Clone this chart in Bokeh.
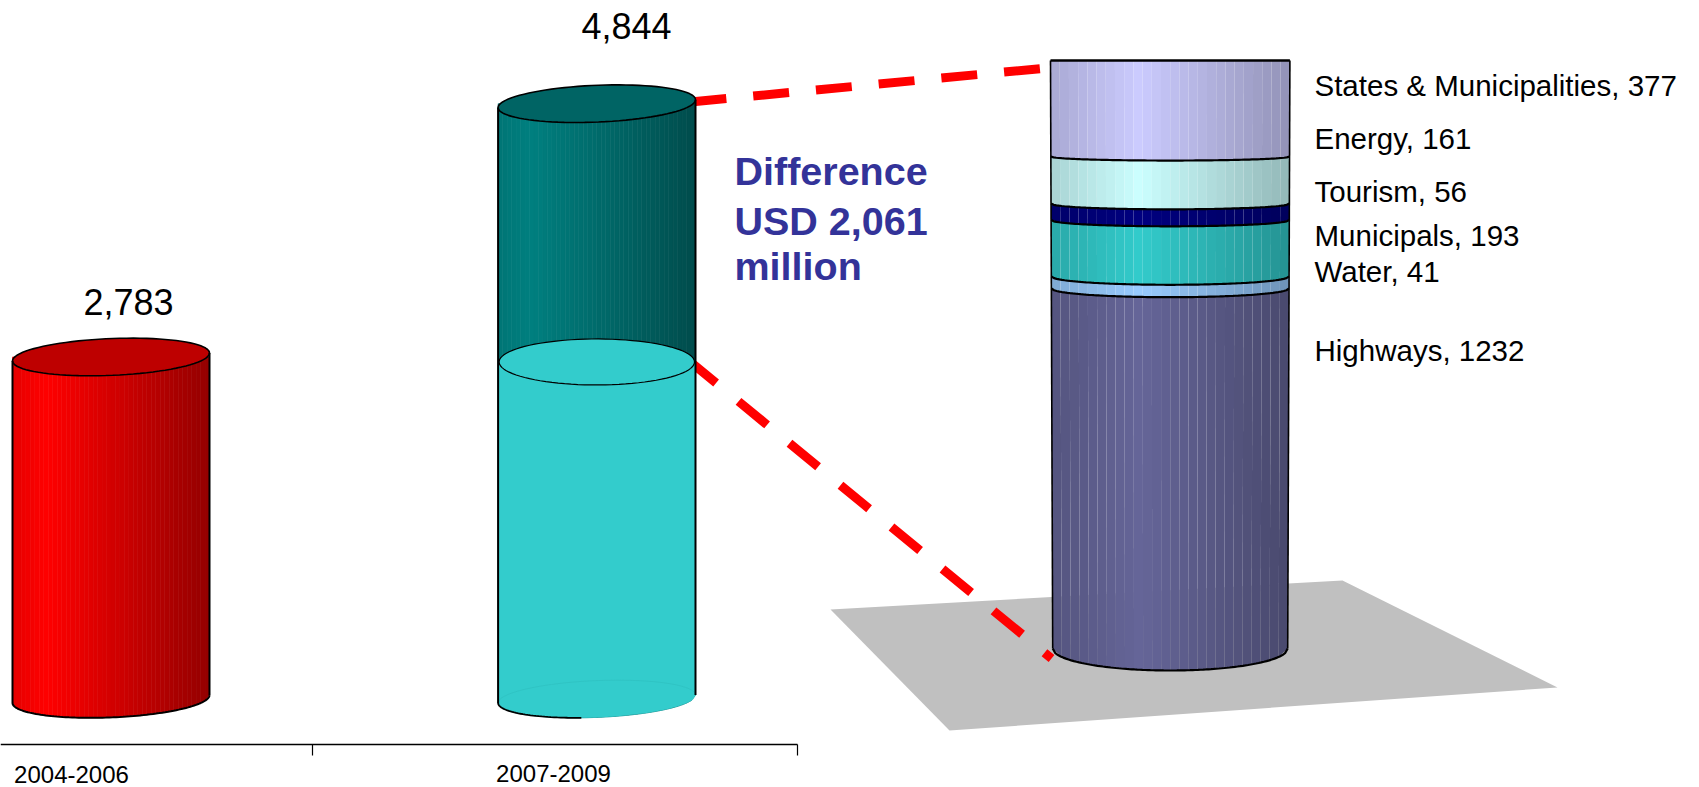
import numpy as np
from bokeh.core.properties import value
from bokeh.embed import file_html
from bokeh.models import FixedTicker, LinearAxis, Range1d
from bokeh.plotting import figure
from bokeh.resources import INLINE

# ---- data
periods = ["2004-2006", "2007-2009"]
totals = [2783, 4844]
difference_lines = ["Difference", "USD 2,061", "million"]
sectors = ["Highways", "Water", "Municipals", "Tourism", "Energy", "States & Municipalities"]
amounts = [1232, 41, 193, 56, 161, 377]
base_colors = ["#666699", "#99CCFF", "#33CCCC", "#000080", "#CCFFFF", "#CCCCFF"]

# ---- layout (page pixels)
W, H, AXIS_Y = 1699, 787, 744
FONT = value("Liberation Sans")
TOTAL_BASE, TOTAL_SCALE = 698.5, 0.1229      # px of zero, px per USD million
STACK_BASE, STACK_SCALE = 670.0, 0.303
STACK_TOP_PX = 60.0


def total_v(px):
    return (TOTAL_BASE - np.asarray(px, dtype=float)) / TOTAL_SCALE


def stack_v(px):
    return (STACK_BASE - np.asarray(px, dtype=float)) / STACK_SCALE


p = figure(width=W, height=H, output_backend="svg", toolbar_location=None,
           x_range=Range1d(0, W), y_range=Range1d(H, 0),
           min_border=0, outline_line_color=None, x_axis_location=None, y_axis_location=None)
p.extra_y_ranges = {
    "total": Range1d(float(total_v(H)), float(total_v(0))),
    "stack": Range1d(float(stack_v(H)), float(stack_v(0))),
}
p.grid.visible = False

ax = LinearAxis(fixed_location=AXIS_Y, ticker=FixedTicker(ticks=[312, 797]), bounds=(0, 797),
                axis_line_color="black", axis_line_width=1.3, major_tick_in=0, major_tick_out=11,
                major_tick_line_color="black", major_tick_line_width=1.2, minor_tick_line_color=None,
                major_label_text_color=None, major_label_text_font_size="1px")
p.add_layout(ax, "below")
for name, x, y in zip(periods, [71, 553], [765, 764]):
    p.add_layout(LinearAxis(fixed_location=y, ticker=FixedTicker(ticks=[x]), major_label_overrides={x: name},
                            axis_line_color=None, major_tick_line_color=None, minor_tick_line_color=None,
                            major_tick_in=0, major_tick_out=0, major_label_standoff=0,
                            major_label_text_font="Liberation Sans", major_label_text_font_size="24px",
                            major_label_text_color="black", major_label_text_font_style="normal"), "below")

# ---- floor
p.patch([830, 1342, 1557, 949], [609, 580, 687, 730], fill_color="#C0C0C0", line_color=None)

# ---- red dashed leaders
for xs, ys, dash in [([690, 1041], [101.5, 68], "36 27"), ([687, 1051], [359, 658], "37 29")]:
    p.line(xs, ys, line_color="#FF0000", line_width=9, line_dash=dash, line_cap="butt")


def ramp(color, peak, left, right, t):
    r, g, b = [int(color[i:i + 2], 16) for i in (1, 3, 5)]
    f = np.where(t < peak, left + (1 - left) * t / peak, 1 - (1 - right) * (t - peak) / (1 - peak))
    return "#%02x%02x%02x" % (int(r * f), int(g * f), int(b * f))


def cap(xc, yc, rx, ry, tilt, t0=0.0, t1=2 * np.pi, n=90):
    th = np.linspace(t0, t1, n)
    x = xc + rx * np.cos(th)
    return x, yc + tilt * (x - xc) + ry * np.sin(th)


TILT, RY = -0.04, 18.4
N = 44


def tube(xc, rx, top_total, color, cap_color, peak=0.17, left=0.9, right=0.58):
    yt = TOTAL_BASE - TOTAL_SCALE * top_total
    edges = np.linspace(xc - rx, xc + rx, N + 1)
    xs, ys, cols = [], [], []

    def bottom(x):
        return TOTAL_BASE + TILT * (x - xc) + RY * np.sqrt(np.clip(1 - ((x - xc) / rx) ** 2, 0, 1))

    for a, b in zip(edges[:-1], edges[1:]):
        xs.append([a, b, b, a])
        ys.append(list(total_v([yt, yt, bottom(b), bottom(a)])))
        cols.append(ramp(color, peak, left, right, ((a + b) / 2 - (xc - rx)) / (2 * rx)))
    p.patches(xs, ys, fill_color=cols, line_color=cols, line_width=0.6, y_range_name="total")
    return yt, bottom


def outline(x, y, width=1.8, color="black"):
    p.line(list(x), list(y), line_color=color, line_width=width)


# ---- left cylinder
XC1, RX1 = 110.5, 98.5
yt1, bot1 = tube(XC1, RX1, totals[0], "#FF0000", "#BE0000")
cx, cy = cap(XC1, yt1, RX1, RY, TILT)
p.patch(list(cx), list(cy), fill_color="#BE0000", line_color="black", line_width=1.6)
ax_, ay_ = cap(XC1, TOTAL_BASE, RX1, RY, TILT, 0, np.pi)
outline(ax_, ay_, 2)
outline([XC1 - RX1] * 2, [yt1 - TILT * RX1, TOTAL_BASE - TILT * RX1], 2)
outline([XC1 + RX1] * 2, [yt1 + TILT * RX1, TOTAL_BASE + TILT * RX1], 2)

# ---- middle cylinder: dark teal body, then the earlier total in flat light teal
XC2, RX2 = 596.3, 98.7
yt2, bot2 = tube(XC2, RX2, totals[1], "#008080", "#006464", left=0.92, right=0.6)
LIGHT_SHIFT = 5
yl = TOTAL_BASE - TOTAL_SCALE * totals[0] + LIGHT_SHIFT
bx = np.linspace(XC2 - RX2, XC2 + RX2, 90)
p.patch([XC2 - RX2] + list(bx) + [XC2 + RX2],
        list(total_v([yl] + list(bot2(bx)) + [yl])),
        fill_color="#33CCCC", line_color="#33CCCC", line_width=0.5, y_range_name="total")
cx, cy = cap(XC2, yt2, RX2, RY, TILT)
p.patch(list(cx), list(cy), fill_color="#006464", line_color="black", line_width=1.6)
lx, ly = cap(XC2, yl, RX2 - 1, 23, 0)
p.patch(list(lx), list(ly), fill_color="#33CCCC", line_color="black", line_width=1.2)
fx, fy = cap(XC2, TOTAL_BASE, RX2, RY, TILT, np.pi, 2 * np.pi)
outline(fx, fy, 0.8, color="#2EC2C2")
ax_, ay_ = cap(XC2, TOTAL_BASE, RX2, RY, TILT, np.pi * 0.55, np.pi, 40)
outline(ax_, ay_, 1.8)
outline([XC2 - RX2] * 2, [yt2 - TILT * RX2, TOTAL_BASE - TILT * RX2], 2)
outline([XC2 + RX2] * 2, [yt2 + TILT * RX2, TOTAL_BASE + TILT * RX2], 2)

# ---- right stacked cylinder (perspective: wider and flatter towards the top)
XC3 = 1169.7
HW_BOTTOM, HW_TOP = 117.5, 119.7
v_top = float(stack_v(STACK_TOP_PX))


def half_width(v):
    return HW_BOTTOM + (HW_TOP - HW_BOTTOM) * v / v_top


def sag(v):
    return 22 - 0.0107 * v


def arc(v, x):
    """px y of the lower rim at stack value v, at page x."""
    hw = half_width(v)
    return STACK_BASE - STACK_SCALE * v - sag(v) * (1 - np.sqrt(np.clip(1 - ((x - XC3) / hw) ** 2, 0, 1)))


bounds = np.concatenate([[0], np.cumsum(amounts)])
M = 26
for i, color in enumerate(base_colors):
    v0, v1 = float(bounds[i]), float(bounds[i + 1])
    edges = np.linspace(XC3 - HW_BOTTOM, XC3 + HW_BOTTOM, M + 1)
    xs, ys, cols = [], [], []
    scale0, scale1 = half_width(v0) / HW_BOTTOM, half_width(min(v1, v_top)) / HW_BOTTOM
    for a, b in zip(edges[:-1], edges[1:]):
        a0, b0 = XC3 + (a - XC3) * scale0, XC3 + (b - XC3) * scale0
        a1, b1 = XC3 + (a - XC3) * scale1, XC3 + (b - XC3) * scale1
        if v1 > v_top:
            ya1, yb1 = STACK_TOP_PX, STACK_TOP_PX
        else:
            ya1, yb1 = arc(v1, a1), arc(v1, b1)
        xs.append([a0, b0, b1, a1])
        ys.append(list(stack_v([arc(v0, a0), arc(v0, b0), yb1, ya1])))
        t = ((a + b) / 2 - (XC3 - HW_BOTTOM)) / (2 * HW_BOTTOM)
        cols.append(ramp(color, 0.37, 0.83, 0.72, t))
    p.patches(xs, ys, fill_color=cols, line_color=None, y_range_name="stack")

for v in bounds[:-1]:
    hw = half_width(float(v))
    x = np.linspace(XC3 - hw, XC3 + hw, 90)
    p.line(list(x), list(stack_v(arc(float(v), x))), line_color="black", line_width=2.2, y_range_name="stack")
for sign in (-1, 1):
    px_ = [XC3 + sign * HW_BOTTOM, XC3 + sign * HW_TOP]
    p.line(px_, [float(stack_v(STACK_BASE - sag(0))), v_top], line_color="black", line_width=1.6, y_range_name="stack")
p.line([XC3 - HW_TOP, XC3 + HW_TOP], [v_top, v_top], line_color="black", line_width=2.6, y_range_name="stack")

# ---- texts
p.text([128, 626], [301, 25], text=[f"{t:,}" for t in totals], text_align="center", text_baseline="middle",
       text_font=FONT, text_font_size=value("36px"), text_color="black")
p.text([734] * 3, [170, 220, 265], text=difference_lines, text_align="left", text_baseline="middle",
       text_font=FONT, text_font_size=value("39.5px"), text_font_style="bold", text_color="#333399")
label_y = [350, 271, 235, 191, 138, 85]
p.text([1314] * 6, label_y, text=[f"{s}, {a}" for s, a in zip(sectors, amounts)], text_align="left",
       text_baseline="middle", text_font=FONT, text_font_size=value("29.5px"), text_color="black")

open("out.html", "w").write(file_html(p, INLINE))
